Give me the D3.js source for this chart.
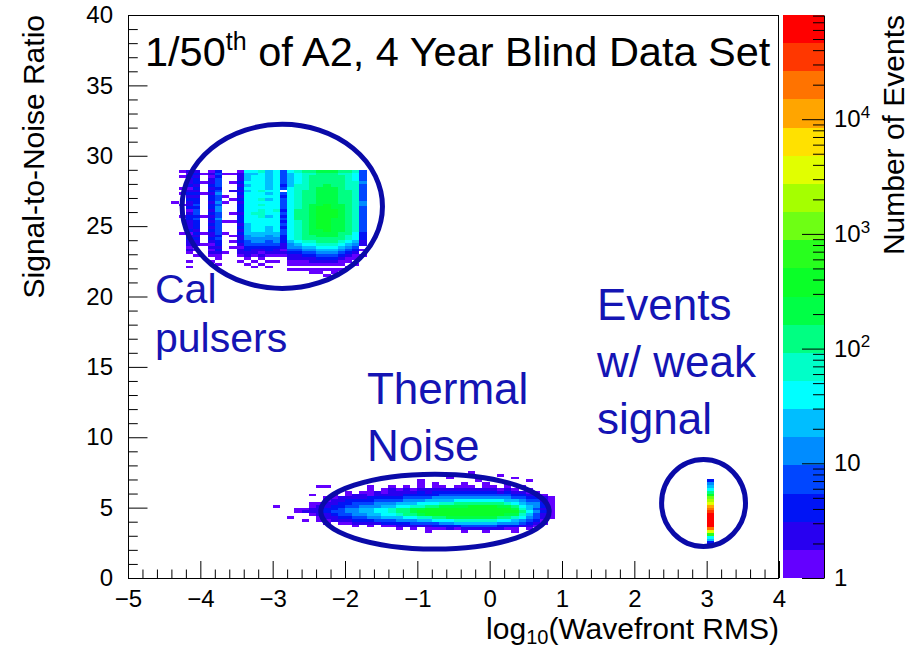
<!DOCTYPE html>
<html>
<head>
<meta charset="utf-8">
<script src="https://cdn.jsdelivr.net/npm/d3@7"></script>
<style>
  html, body { margin: 0; padding: 0; background: #fff; }
  svg { display: block; font-family: "Liberation Sans", Arial, Helvetica, sans-serif; }
</style>
</head>
<body>
<svg id="chart" width="912" height="648"></svg>
<script>
// ---------------------------------------------------------------------------
// Axis ranges and binning of the 2-D histogram
// ---------------------------------------------------------------------------
const xDomain = [-5, 4];          // log10(Wavefront RMS)
const yDomain = [0, 40];          // Signal-to-Noise Ratio
const xBinWidth = 0.1;
const yBinWidth = 0.2;
const zMax = 81000;               // top of the colour axis (Number of Events)
const nContours = 20;

const xMajorTicks = [-5, -4, -3, -2, -1, 0, 1, 2, 3, 4];
const yMajorTicks = [0, 5, 10, 15, 20, 25, 30, 35, 40];
const zMajorTicks = [1, 10, 100, 1000, 10000];
const zTickBase = ["1", "10", "10", "10", "10"];
const zTickExp  = ["", "", "2", "3", "4"];

// Colour contours, lowest to highest
const paletteColors = [
  "#6400ff", "#2800f0", "#0014f5", "#0046ff", "#008cff",
  "#00beff", "#00ffff", "#00ffc8", "#00ff82", "#00ff46",
  "#0aff28", "#28ff1e", "#6eff14", "#a5ff00", "#e1ff00",
  "#ffe100", "#ffa500", "#ff7300", "#ff3700", "#ff0000"
];

// Cell contents are given as colour-contour classes: '0'..'9','a'..'j' = 0..19,
// '.' = empty bin.

// Calibration pulsers: one string per x bin starting at x = -4.4,
// each string runs downward from the bin [28.8, 29.0].
const calFirstX = -4.4;
const calTopY = 28.8;
const calColumns = [
  "..........|.0........|..........|........",   // -4.4
  "0.0...0.0.|..0...0...|..0.......|........",   // -4.3
  "1021120121|2112012211|1201211010|..0.0...",   // -4.2
  "1212212121|2232332322|2121211.0.|0.......",   // -4.1
  ".0..0...0.|......0...|..0...0...|........",   // -4.0
  "0101121212|2122121212|1211210101|0.0.....",   // -3.9
  "2323332343|3434433433|3332322121|00.0....",   // -3.8
  ".0.......0|.0......0.|..0......0|........",   // -3.7
  ".0..0..1..|0....0..0.|...0.0.0..|........",   // -3.6
  "0111212121|2122212221|2121121011|0.0.....",   // -3.5
  "6555656566|6666666665|5554433221|10.0....",   // -3.4
  "6566666666|6666676666|6655443211|0.0.0...",   // -3.3
  "7666666766|7676777666|6655443210|10.0....",   // -3.2
  "5555555656|5666665666|5554433221|0.0.0...",   // -3.1
  "6666666666|6666766666|6655443211|0.0.....",   // -3.0
  "3333323.32|3333232323|2332221101|0.......",   // -2.9
  "6555556666|6666666666|6666654432|1100.0..",   // -2.8
  "7666677777|7777888877|7777765432|1100.0..",   // -2.7
  "8777777888|8888888888|8888876543|2100.0..",   // -2.6
  "8788888888|8899999999|9998876543|2110.00.",   // -2.5
  "9888889999|999aaaaaaa|a999887654|3210.00.",   // -2.4
  "9888899999|99aaaaaaaa|aa99887654|3210.0.0",   // -2.3
  "9888889999|9999aaa999|9999887654|3210.00.",   // -2.2
  "8788888888|8899999999|9988876543|2100.0..",   // -2.1
  "8777777888|8888888888|8887765432|100.0...",   // -2.0
  "7666777777|7777777777|7766654321|00.0....",   // -1.9
  "3333433333|3443333333|3322211.0.|0......."    // -1.8
];

// Thermal noise: one string per SNR bin starting at [7.4, 7.6] and going down,
// each string runs across x bins starting at x = -3.3.
const thermalFirstX = -3.3;
const thermalTopY = 7.4;
const thermalRows = [
  "..........|..........|..........|0.........|...",   // 7.4
  "..........|..........|..........|....0.....|...",   // 7.2
  "..........|..........|.......0..|......0...|...",   // 7.0
  "..........|..........|...0......|.0......0.|...",   // 6.8
  "..........|..........|...0.0...0|..0..0....|...",   // 6.6
  ".........0|0.....0..0|.0.0.00.00|0.00.0.0..|...",   // 6.4
  "..........|......0.01|0101111111|1111010.0.|...",   // 6.2
  "..........|...0.00101|1112122222|2222121100|...",   // 6.0
  "........0.|.0.0110111|1222223333|3333332211|0..",   // 5.8
  "..........|0011112222|2333344444|4444443322|10.",   // 5.6
  "..........|0112222333|3444555566|6666655433|10.",   // 5.4
  "........00|1122333444|5556667788|8888876544|20.",   // 5.2
  "...0....01|1223344455|6677889999|aaaa998654|20.",   // 5.0
  "......0011|2234455667|8899aaaaaa|aaaaaa9753|10.",   // 4.8
  "......0111|2334455667|889aaaaaaa|aaaaaaa864|20.",   // 4.6
  "........01|1233445566|7889aaaaaa|aaaaa99753|10.",   // 4.4
  ".....0...0|1122334455|5667788999|9999887643|10.",   // 4.2
  ".......0.0|0111222333|4445566677|7777665432|0..",   // 4.0
  "..........|0.00111122|2233334455|5555444321|0..",   // 3.8
  "..........|....0.0.00|1111122223|3333222110|...",   // 3.6
  "..........|..........|0.0.000101|1111100.0.|...",   // 3.4
  "..........|..........|....0....0|..0...0...|..."    // 3.2
];

// Events with weak signal: single x bin [3.0, 3.1], from [6.8, 7.0] downward.
const weakX = 3.0;
const weakTopY = 6.8;
const weakColumn = "24568acdeghijjjjjheb652";

// Circled regions (data coordinates) and their captions
const regions = [
  { cx: -2.867, cy: 26.40, rx: 1.385, ry: 5.83 },
  { cx: -0.756, cy: 4.72,  rx: 1.579, ry: 2.66 },
  { cx:  2.957, cy: 5.33,  rx: 0.580, ry: 3.09 }
];
const captions = [
  { lines: ["Cal", "pulsers"],              x: -4.627, y: 19.55, size: 41, lead: 49 },
  { lines: ["Thermal", "Noise"],            x: -1.696, y: 12.37, size: 44, lead: 57 },
  { lines: ["Events", "w/ weak", "signal"], x:  1.484, y: 18.36, size: 44, lead: 57 }
];

// ---------------------------------------------------------------------------
// Scales
// ---------------------------------------------------------------------------
const plot = { left: 128, right: 779, top: 15, bottom: 578 };
const bar = { left: 783, right: 824 };

const x = d3.scaleLinear().domain(xDomain).range([plot.left, plot.right]);
const y = d3.scaleLinear().domain(yDomain).range([plot.bottom, plot.top]);
const z = d3.scaleLog().domain([1, zMax]).range([plot.bottom, plot.top]);

const logMax = Math.log10(zMax);
const contourEdges = d3.range(nContours + 1).map(k => Math.pow(10, k * logMax / nContours));
const color = d3.scaleThreshold().domain(contourEdges.slice(1, -1)).range(paletteColors);
const classToCount = c => Math.pow(10, (c + 0.5) * logMax / nContours);

const round1 = v => Math.round(v * 10) / 10;
const cells = [];
function addCell(xLow, yLow, ch) {
  if (ch === ".") return;
  cells.push({ x0: round1(xLow), y0: round1(yLow), count: classToCount(parseInt(ch, 20)) });
}
const strip = s => s.replace(/\|/g, "");

calColumns.forEach((col, k) => {
  [...strip(col)].forEach((ch, p) => addCell(calFirstX + k * xBinWidth, calTopY - p * yBinWidth, ch));
});
thermalRows.forEach((row, p) => {
  [...strip(row)].forEach((ch, k) => addCell(thermalFirstX + k * xBinWidth, thermalTopY - p * yBinWidth, ch));
});
[...weakColumn].forEach((ch, p) => addCell(weakX, weakTopY - p * yBinWidth, ch));

// ---------------------------------------------------------------------------
// Drawing
// ---------------------------------------------------------------------------
const svg = d3.select("#chart");
const FONT = '"Liberation Sans", Arial, Helvetica, sans-serif';

// histogram cells
svg.append("g").selectAll("rect").data(cells).join("rect")
  .attr("x", d => x(d.x0))
  .attr("width", d => x(d.x0 + xBinWidth) - x(d.x0))
  .attr("y", d => y(d.y0 + yBinWidth))
  .attr("height", d => y(d.y0) - y(d.y0 + yBinWidth))
  .attr("fill", d => color(d.count))
  .attr("shape-rendering", "crispEdges");

// frame
svg.append("rect")
  .attr("x", plot.left + 0.5).attr("y", plot.top + 0.5)
  .attr("width", plot.right - plot.left - 1).attr("height", plot.bottom - plot.top)
  .attr("fill", "none").attr("stroke", "#000").attr("stroke-width", 1);

function styleAxis(g, size) {
  g.attr("font-size", size).attr("font-family", FONT);
  g.selectAll(".tick line").attr("stroke", "#000");
  g.selectAll(".tick text").attr("fill", "#000");
}

// x axis (ticks point into the frame)
const xMinor = d3.range(-5, 4.0001, 0.2).map(round1).filter(v => !xMajorTicks.includes(v));
svg.append("g").attr("transform", `translate(0,${plot.bottom})`)
  .call(d3.axisBottom(x).tickValues(xMinor).tickSize(-8.5).tickSizeOuter(0).tickFormat(""))
  .call(g => g.select(".domain").remove())
  .call(g => styleAxis(g, 24));
svg.append("g").attr("transform", `translate(0,${plot.bottom})`)
  .call(d3.axisBottom(x).tickValues(xMajorTicks).tickSize(-17).tickSizeOuter(0).tickPadding(12).tickFormat(d3.format("d")))
  .call(g => g.select(".domain").remove())
  .call(g => styleAxis(g, 24));

// y axis
const yMinor = d3.range(0, 41, 1).filter(v => !yMajorTicks.includes(v));
svg.append("g").attr("transform", `translate(${plot.left},0)`)
  .call(d3.axisLeft(y).tickValues(yMinor).tickSize(-9.75).tickSizeOuter(0).tickFormat(""))
  .call(g => g.select(".domain").remove())
  .call(g => styleAxis(g, 24));
svg.append("g").attr("transform", `translate(${plot.left},0)`)
  .call(d3.axisLeft(y).tickValues(yMajorTicks).tickSize(-19.5).tickSizeOuter(0).tickPadding(15).tickFormat(d3.format("d")))
  .call(g => g.select(".domain").remove())
  .call(g => styleAxis(g, 24));

// axis titles
const xTitle = svg.append("text")
  .attr("x", plot.right).attr("y", 639)
  .attr("text-anchor", "end").attr("font-size", 30).attr("fill", "#000");
xTitle.append("tspan").text("log");
xTitle.append("tspan").attr("dy", 5).attr("font-size", 20).text("10");
xTitle.append("tspan").attr("dy", -5).text("(Wavefront RMS)");

svg.append("text")
  .attr("transform", `translate(43.5,${plot.top}) rotate(-90)`)
  .attr("text-anchor", "end").attr("font-size", 30).attr("fill", "#000")
  .text("Signal-to-Noise Ratio");

// colour bar
svg.append("g").selectAll("rect").data(d3.range(nContours)).join("rect")
  .attr("x", bar.left)
  .attr("width", bar.right - bar.left)
  .attr("y", k => z(contourEdges[k + 1]))
  .attr("height", k => z(contourEdges[k]) - z(contourEdges[k + 1]))
  .attr("fill", k => paletteColors[k])
  .attr("shape-rendering", "crispEdges");

const zMinor = [];
zMajorTicks.forEach(d => { for (let m = 2; m <= 9; m++) if (d * m <= zMax) zMinor.push(d * m); });
svg.append("g").attr("transform", `translate(${bar.right},0)`)
  .call(d3.axisRight(z).tickValues(zMinor).tickSize(-11).tickSizeOuter(0).tickFormat(""))
  .call(g => g.select(".domain").remove())
  .call(g => styleAxis(g, 24));
svg.append("g").attr("transform", `translate(${bar.right},0)`)
  .call(d3.axisRight(z).tickValues(zMajorTicks).tickSize(-22).tickSizeOuter(0).tickPadding(10).tickFormat(""))
  .call(g => g.select(".domain").attr("stroke", "#000"))
  .call(g => styleAxis(g, 24))
  .call(g => g.selectAll(".tick text").each(function(d, i) {
    const t = d3.select(this);
    t.append("tspan").text(zTickBase[i]);
    if (zTickExp[i]) t.append("tspan").attr("dy", "-0.55em").attr("font-size", 17).text(zTickExp[i]);
  }));

svg.append("text")
  .attr("transform", `translate(904,${plot.top}) rotate(-90)`)
  .attr("text-anchor", "end").attr("font-size", 30).attr("fill", "#000")
  .text("Number of Events");

// title
const title = svg.append("text")
  .attr("x", 145).attr("y", 66).attr("font-size", 41.5).attr("fill", "#000");
title.append("tspan").text("1/50");
title.append("tspan").attr("dy", -16).attr("font-size", 25).text("th");
title.append("tspan").attr("dy", 16).text(" of A2, 4 Year Blind Data Set");

// circled regions
svg.append("g").selectAll("ellipse").data(regions).join("ellipse")
  .attr("cx", d => x(d.cx)).attr("cy", d => y(d.cy))
  .attr("rx", d => x(d.cx + d.rx) - x(d.cx))
  .attr("ry", d => y(d.cy - d.ry) - y(d.cy))
  .attr("fill", "none").attr("stroke", "#0a0aa8").attr("stroke-width", 5);

// captions
captions.forEach(c => {
  const t = svg.append("text")
    .attr("x", x(c.x)).attr("y", y(c.y))
    .attr("font-size", c.size).attr("fill", "#1414b4");
  c.lines.forEach((line, i) => {
    t.append("tspan").attr("x", x(c.x)).attr("dy", i === 0 ? 0 : c.lead).text(line);
  });
});
</script>
</body>
</html>
